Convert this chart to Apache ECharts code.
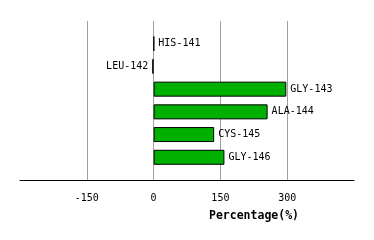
<!DOCTYPE html>
<html><head><meta charset="utf-8">
<script src="https://cdn.jsdelivr.net/npm/echarts@6/dist/echarts.min.js"></script>
<style>html,body{margin:0;padding:0;background:#fff}#c{width:374px;height:240px}</style>
</head><body><div id="c"></div>
<script>
const categories = ['HIS-141','LEU-142','GLY-143','ALA-144','CYS-145','GLY-146'];
const values = [1, -3, 298, 256, 136, 159];
const xTicks = [-300, -150, 0, 150, 300, 450];

const axisCats = [''].concat(categories, ['']);
const seriesData = [null].concat(values.map((v, i) => ({
  value: v,
  name: categories[i],
  label: { position: v < 0 ? 'left' : 'right' }
})), [null]);

const chart = echarts.init(document.getElementById('c'), null, {renderer: 'canvas'});
const font = '"DejaVu Sans Mono", monospace';
chart.setOption({
  animation: false,
  grid: { left: 20, right: 20, top: 21, bottom: 60 },
  xAxis: {
    type: 'value',
    min: xTicks[0], max: xTicks[xTicks.length - 1], interval: 150,
    name: 'Percentage(%)',
    nameLocation: 'middle',
    nameGap: 30,
    nameTextStyle: { fontFamily: font, fontWeight: 'bold', fontSize: 11.5, color: '#000', padding: [0, 0, 0, 134] },
    axisLine: { show: true, onZero: false, lineStyle: { color: '#000', width: 1 } },
    axisTick: { show: false },
    axisLabel: { showMinLabel: false, showMaxLabel: false, fontFamily: font, fontSize: 10, color: '#000', margin: 13 },
    splitLine: { show: true, lineStyle: { color: ['transparent', '#a0a0a0', '#a0a0a0', '#a0a0a0', '#a0a0a0', 'transparent'], width: 1 } }
  },
  yAxis: {
    type: 'category',
    data: axisCats,
    inverse: true,
    boundaryGap: false,
    show: false
  },
  series: [{
    type: 'bar',
    data: seriesData,
    barWidth: 15,
    itemStyle: { color: '#00b000', borderColor: '#000', borderWidth: 1 },
    label: {
      show: true,
      formatter: p => p.name,
      fontFamily: font, fontSize: 10, color: '#000', distance: 4
    }
  }]
});
</script></body></html>
